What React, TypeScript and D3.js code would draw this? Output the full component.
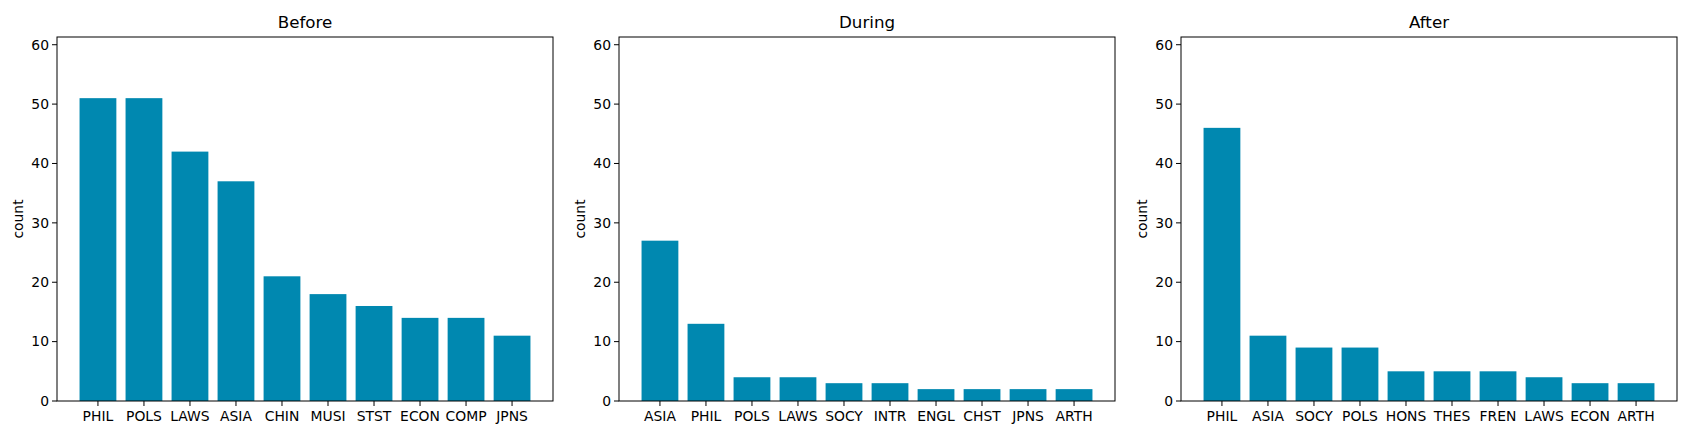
import React from "react";
import * as d3 from "d3";

const beforeCats = ["PHIL", "POLS", "LAWS", "ASIA", "CHIN", "MUSI", "STST", "ECON", "COMP", "JPNS"];
const beforeVals = [51, 51, 42, 37, 21, 18, 16, 14, 14, 11];
const duringCats = ["ASIA", "PHIL", "POLS", "LAWS", "SOCY", "INTR", "ENGL", "CHST", "JPNS", "ARTH"];
const duringVals = [27, 13, 4, 4, 3, 3, 2, 2, 2, 2];
const afterCats = ["PHIL", "ASIA", "SOCY", "POLS", "HONS", "THES", "FREN", "LAWS", "ECON", "ARTH"];
const afterVals = [46, 11, 9, 9, 5, 5, 5, 4, 3, 3];
const yTicks = [0, 10, 20, 30, 40, 50, 60];

const panels = [
  { title: "Before", cats: beforeCats, vals: beforeVals, left: 57 },
  { title: "During", cats: duringCats, vals: duringVals, left: 619 },
  { title: "After", cats: afterCats, vals: afterVals, left: 1181 },
];

const W = 496, top = 37, bottom = 401;
const font = "DejaVu Sans, sans-serif";

function Panel({ title, cats, vals, left }: any) {
  const x = d3.scaleLinear().domain([-0.89, cats.length - 1 + 0.89]).range([0, W]);
  const y = d3.scaleLinear().domain([0, 61.3]).range([bottom - top, 0]);
  const bw = x(0.4) - x(-0.4);
  return (
    <g transform={`translate(${left},${top})`} fontFamily={font}>
      <text x={W / 2} y={-9} textAnchor="middle" fontSize={16.7}>{title}</text>
      {vals.map((v: number, i: number) => (
        <rect key={i} x={x(i) - bw / 2} y={y(v)} width={bw} height={y(0) - y(v)} fill="#0088b0" />
      ))}
      <rect x={0} y={0} width={W} height={bottom - top} fill="none" stroke="#000" strokeWidth={1} />
      {yTicks.map((t) => (
        <g key={t} transform={`translate(0,${y(t)})`}>
          <line x1={-5} x2={0} stroke="#000" />
          <text x={-8} dy="0.35em" textAnchor="end" fontSize={13.9}>{t}</text>
        </g>
      ))}
      {cats.map((c: string, i: number) => (
        <g key={c} transform={`translate(${x(i)},${bottom - top})`}>
          <line y1={0} y2={5} stroke="#000" />
          <text y={20} textAnchor="middle" fontSize={13.9}>{c}</text>
        </g>
      ))}
      <text transform={`translate(-34,${(bottom - top) / 2}) rotate(-90)`} textAnchor="middle" fontSize={13.9}>count</text>
    </g>
  );
}

export default function App() {
  return (
    <svg width={1686} height={435} style={{ position: "absolute", left: 0, top: 0 }}>
      <rect width={1686} height={435} fill="#fff" />
      {panels.map((p) => <Panel key={p.title} {...p} />)}
    </svg>
  );
}
